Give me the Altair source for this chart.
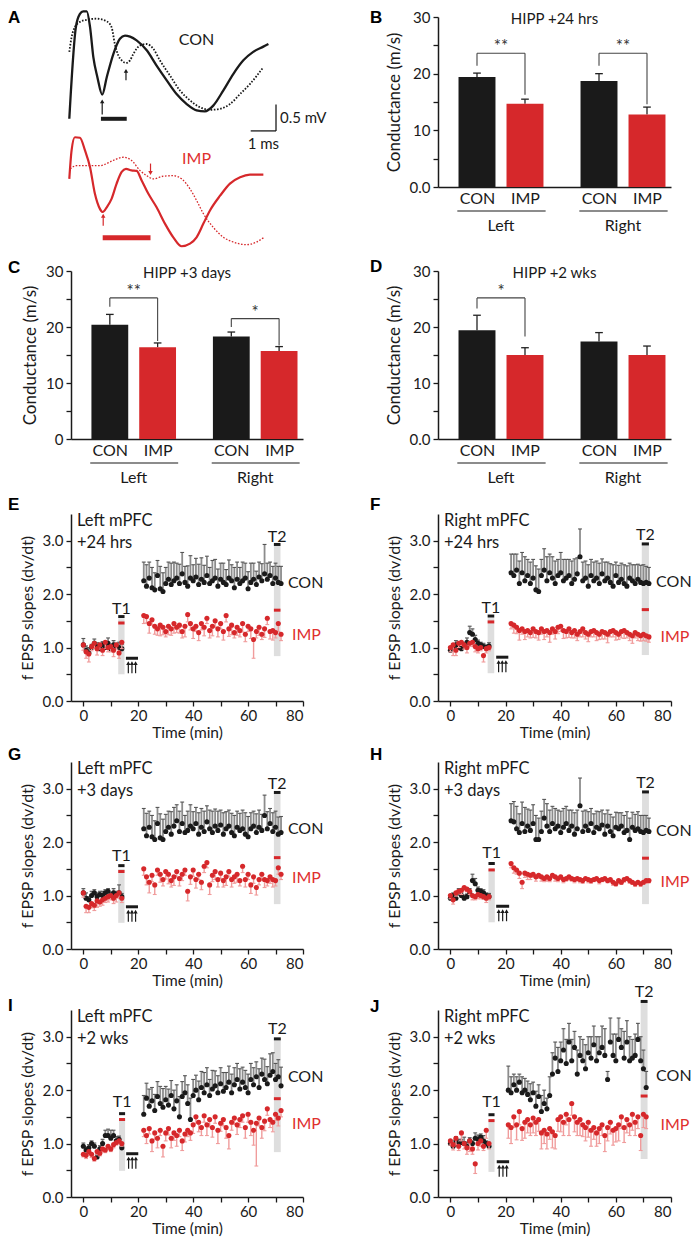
import altair as alt
import pandas as pd

FONT = "Lato"
LFONT = "Liberation Sans"
INK = "#1a1a1a"
RED = "#d6282b"
RED_TXT = "#e0302e"
PALE = "#f09c9c"
ERR_GRAY = "#8c8c8c"
CAP_GRAY = "#555555"
BAND = "#dedede"

W_L, W_R = 232, 233
H_TOP, H_BAR, H_TIME = 170, 168, 187
COL_GAP = 135

# ---------------- Panel A : traces (ms, mV) ----------------
A_CON_SOLID_T = [0, 0.26, 0.42, 0.55, 0.69, 0.82, 0.95, 1.11, 1.30, 1.48, 1.74, 2.00, 2.20, 2.40, 2.66,
                 3.06, 3.45, 3.85, 4.24, 4.64, 5.03, 5.36, 5.69, 6.09, 6.48, 6.88, 7.27, 7.67, 7.87]
A_CON_SOLID_V = [2.31, 4.05, 4.30, 4.35, 4.35, 4.05, 3.48, 3.10, 2.77, 3.10, 3.54, 3.83, 3.89, 3.87, 3.80,
                 3.61, 3.32, 3.04, 2.78, 2.59, 2.47, 2.45, 2.56, 2.85, 3.16, 3.42, 3.58, 3.68, 3.73]
A_CON_DOT_T = [0, 0.09, 0.22, 0.42, 0.69, 1.08, 1.48, 1.67, 1.80, 1.94, 2.07, 2.24, 2.40, 2.53, 2.79,
               3.06, 3.32, 3.58, 3.98, 4.37, 4.77, 5.16, 5.56, 5.96, 6.35, 6.75, 7.14, 7.67]
A_CON_DOT_V = [3.58, 3.86, 4.05, 4.15, 4.19, 4.21, 4.16, 4.05, 3.73, 3.51, 3.42, 3.37, 3.42, 3.54, 3.70,
               3.73, 3.64, 3.42, 3.13, 2.85, 2.66, 2.53, 2.48, 2.50, 2.59, 2.78, 2.97, 3.29]
A_IMP_SOLID_T = [0, 0.09, 0.22, 0.42, 0.62, 0.82, 1.01, 1.21, 1.32, 1.48, 1.67, 1.87, 2.07, 2.24, 2.46, 2.66,
                 2.86, 3.12, 3.45, 3.78, 4.11, 4.44, 4.77, 5.03, 5.30, 5.56, 5.96, 6.35, 6.75, 7.14, 7.67]
A_IMP_SOLID_V = [1.17, 1.71, 1.96, 1.95, 1.71, 1.39, 0.89, 0.60, 0.54, 0.63, 0.79, 1.08, 1.30, 1.36, 1.33, 1.32,
                 1.14, 0.89, 0.63, 0.32, 0.06, -0.11, -0.06, 0.06, 0.32, 0.57, 0.85, 1.08, 1.20, 1.25, 1.25]
A_IMP_DOT_T = [0.03, 0.29, 0.69, 1.21, 1.74, 2.13, 2.46, 2.79, 3.06, 3.32, 3.72, 4.11, 4.44, 4.77, 5.03,
               5.30, 5.69, 6.09, 6.48, 7.01, 7.40, 7.67]
A_IMP_DOT_V = [1.36, 1.42, 1.42, 1.42, 1.52, 1.58, 1.52, 1.33, 1.23, 1.17, 1.22, 1.23, 1.17, 0.98, 0.76,
               0.51, 0.25, 0.06, -0.03, -0.08, -0.03, 0.05]
A_ARROW_T = [1.30, 2.24, 1.34, 3.21]
A_ARROW_TAIL = [2.39, 3.04, 0.28, 1.46]
A_ARROW_HEAD = [2.64, 3.22, 0.47, 1.28]
A_ARROW_GROUP = ["CON", "CON", "IMP", "IMP"]
A_LAT_START = [1.25, 1.32]
A_LAT_END = [2.27, 3.21]
A_LAT_LEVEL = [2.31, 0.05]
A_SCALE_T = [7.17, 8.17]
A_SCALE_V = [2.08, 2.58]

# ---------------- Panels B, C, D : bars ----------------
BAR_POS = [1.0, 2.0, 3.542, 4.542]
BAR_GROUP = ["CON", "IMP", "CON", "IMP"]
SIDES = ["Left", "Right"]
B_MEAN = [19.4, 14.7, 18.7, 12.8]
B_SEM = [0.7, 0.8, 1.3, 1.3]
C_MEAN = [20.4, 16.4, 18.3, 15.7]
C_SEM = [1.85, 0.75, 0.8, 0.8]
D_MEAN = [19.4, 15.0, 17.4, 15.0]
D_SEM = [2.7, 1.3, 1.6, 1.6]
# (from, to, bracket level, left leg end, right leg end, label)
B_BRACKETS = [(1.0, 2.0, 23.6, 21.4, 16.3, "**"), (3.542, 4.542, 23.6, 21.4, 14.6, "**")]
C_BRACKETS = [(1.0, 2.0, 25.2, 23.6, 17.5, "**"), (3.542, 4.542, 21.5, 20.0, 16.7, "*")]
D_BRACKETS = [(1.0, 2.0, 25.2, 23.3, 18.3, "*")]

# ---------------- Panels E-J : fEPSP time courses ----------------
T_BASE = list(range(0, 15))
T_POST = list(range(22, 73))
T_POST_J = list(range(21, 72))

E_CON_BASE = [1.05, 0.95, 0.90, 1.00, 1.08, 1.02, 0.98, 1.05, 1.00, 1.08, 0.98, 1.05, 1.02, 1.00, 0.98]
E_CON_BASE_ERR = [0.12, 0.08, 0.10, 0.06, 0.08, 0.07, 0.10, 0.06, 0.08, 0.10, 0.07, 0.08, 0.06, 0.10, 0.08]
E_IMP_BASE = [1.05, 0.92, 0.88, 1.02, 1.08, 0.98, 1.05, 0.95, 1.10, 1.00, 1.02, 0.95, 1.05, 0.90, 1.10]
E_IMP_BASE_ERR = [0.10, 0.12, 0.15, 0.08, 0.10, 0.12, 0.08, 0.10, 0.12, 0.08, 0.10, 0.12, 0.08, 0.10, 0.12]
E_CON_POST = [2.25, 2.15, 2.30, 2.12, 2.08, 2.35, 2.10, 2.05, 2.20, 2.28,
              2.18, 2.25, 2.30, 2.20, 2.38, 2.22, 2.15, 2.30, 2.25, 2.32,
              2.18, 2.28, 2.22, 2.35, 2.20, 2.25, 2.30, 2.15, 2.28, 2.22,
              2.18, 2.30, 2.25, 2.12, 2.28, 2.20, 2.25, 2.30, 2.10, 2.22,
              2.28, 2.18, 2.32, 2.25, 2.38, 2.28, 2.35, 2.20, 2.30, 2.22, 2.20]
E_CON_POST_ERR = [0.35, 0.40, 0.30, 0.38, 0.32, 0.28, 0.42, 0.35, 0.30, 0.32,
                  0.40, 0.35, 0.28, 0.36, 0.40, 0.30, 0.38, 0.42, 0.30, 0.35,
                  0.38, 0.40, 0.32, 0.36, 0.30, 0.38, 0.35, 0.32, 0.30, 0.36,
                  0.28, 0.34, 0.30, 0.38, 0.32, 0.30, 0.35, 0.28, 0.32, 0.36,
                  0.30, 0.25, 0.28, 0.32, 0.55, 0.30, 0.25, 0.32, 0.28, 0.30, 0.32]
E_IMP_POST = [1.60, 1.58, 1.45, 1.52, 1.40, 1.35, 1.42, 1.38, 1.30, 1.40,
              1.35, 1.45, 1.38, 1.42, 1.30, 1.40, 1.62, 1.45, 1.35, 1.40,
              1.28, 1.45, 1.38, 1.55, 1.32, 1.40, 1.50, 1.35, 1.45, 1.30,
              1.60, 1.35, 1.42, 1.28, 1.38, 1.32, 1.45, 1.25, 1.40, 1.35,
              1.15, 1.30, 1.38, 1.25, 1.35, 1.55, 1.30, 1.32, 1.28, 1.45, 1.25]
E_IMP_POST_ERR = [0.15, 0.12, 0.18, 0.10, 0.15, 0.12, 0.20, 0.14, 0.10, 0.16,
                  0.12, 0.18, 0.10, 0.15, 0.12, 0.20, 0.14, 0.12, 0.18, 0.10,
                  0.15, 0.12, 0.16, 0.10, 0.14, 0.18, 0.12, 0.15, 0.10, 0.16,
                  0.12, 0.14, 0.18, 0.10, 0.15, 0.12, 0.16, 0.14, 0.10, 0.18,
                  0.35, 0.12, 0.15, 0.10, 0.16, 0.12, 0.14, 0.18, 0.10, 0.15, 0.12]

F_CON_BASE = [0.95, 1.00, 1.05, 1.00, 0.98, 1.02, 1.10, 1.28, 1.25, 1.15, 1.08, 1.05, 1.02, 1.00, 1.03]
F_CON_BASE_ERR = [0.06, 0.05, 0.08, 0.06, 0.07, 0.06, 0.08, 0.12, 0.10, 0.08, 0.06, 0.05, 0.06, 0.05, 0.06]
F_IMP_BASE = [1.00, 1.05, 0.95, 1.08, 1.10, 1.05, 1.00, 1.08, 1.10, 1.02, 0.98, 1.00, 0.85, 0.98, 1.00]
F_IMP_BASE_ERR = [0.08, 0.20, 0.10, 0.08, 0.06, 0.08, 0.10, 0.06, 0.08, 0.10, 0.08, 0.06, 0.12, 0.08, 0.06]
F_CON_POST = [2.40, 2.35, 2.45, 2.20, 2.40, 2.25, 2.35, 2.20, 2.30, 2.08,
              2.05, 2.35, 2.45, 2.25, 2.40, 2.30, 2.20, 2.35, 2.40, 2.25,
              2.30, 2.35, 2.20, 2.28, 2.38, 2.70, 2.25, 2.30, 2.15, 2.35,
              2.25, 2.30, 2.20, 2.38, 2.25, 2.30, 2.22, 2.15, 2.35, 2.22,
              2.28, 2.20, 2.15, 2.30, 2.25, 2.20, 2.28, 2.22, 2.20, 2.22, 2.20]
F_CON_POST_ERR = [0.35, 0.40, 0.30, 0.42, 0.38, 0.45, 0.30, 0.40, 0.35, 0.45,
                  0.42, 0.30, 0.40, 0.45, 0.35, 0.40, 0.42, 0.30, 0.38, 0.40,
                  0.35, 0.30, 0.42, 0.38, 0.30, 0.52, 0.35, 0.32, 0.40, 0.30,
                  0.35, 0.32, 0.38, 0.28, 0.35, 0.30, 0.35, 0.40, 0.25, 0.32,
                  0.30, 0.35, 0.38, 0.28, 0.30, 0.35, 0.28, 0.32, 0.35, 0.30, 0.30]
F_IMP_POST = [1.45, 1.42, 1.38, 1.32, 1.35, 1.30, 1.32, 1.28, 1.35, 1.30,
              1.28, 1.35, 1.30, 1.32, 1.28, 1.35, 1.30, 1.38, 1.40, 1.32,
              1.30, 1.35, 1.28, 1.32, 1.25, 1.30, 1.35, 1.28, 1.25, 1.30,
              1.32, 1.28, 1.25, 1.30, 1.28, 1.25, 1.30, 1.32, 1.28, 1.25,
              1.30, 1.32, 1.28, 1.25, 1.22, 1.28, 1.25, 1.22, 1.25, 1.22, 1.20]
F_IMP_POST_ERR = [0.10, 0.15, 0.12, 0.18, 0.10, 0.15, 0.12, 0.10, 0.16, 0.12,
                  0.14, 0.10, 0.15, 0.12, 0.18, 0.10, 0.14, 0.12, 0.10, 0.15,
                  0.12, 0.16, 0.10, 0.14, 0.12, 0.10, 0.15, 0.12, 0.14, 0.10,
                  0.12, 0.15, 0.10, 0.14, 0.12, 0.16, 0.10, 0.12, 0.14, 0.10,
                  0.12, 0.15, 0.10, 0.12, 0.14, 0.10, 0.12, 0.10, 0.12, 0.10, 0.10]

G_CON_BASE = [1.05, 0.95, 0.92, 1.00, 1.05, 0.98, 1.02, 1.00, 1.05, 1.08, 1.00, 1.05, 1.02, 1.05, 0.98]
G_CON_BASE_ERR = [0.08, 0.10, 0.06, 0.08, 0.06, 0.07, 0.06, 0.08, 0.06, 0.05, 0.06, 0.08, 0.06, 0.15, 0.06]
G_IMP_BASE = [1.05, 0.80, 0.78, 0.85, 0.82, 0.90, 0.88, 0.92, 0.95, 0.98, 1.00, 0.95, 1.00, 1.05, 0.95]
G_IMP_BASE_ERR = [0.08, 0.12, 0.10, 0.08, 0.10, 0.12, 0.08, 0.10, 0.08, 0.10, 0.08, 0.10, 0.12, 0.10, 0.08]
G_CON_POST = [2.25, 2.12, 2.28, 2.10, 2.05, 2.35, 2.08, 2.05, 2.20, 2.28,
              2.15, 2.30, 2.40, 2.20, 2.35, 2.18, 2.22, 2.30, 2.25, 2.35,
              2.15, 2.28, 2.20, 2.38, 2.25, 2.18, 2.30, 2.22, 2.32, 2.15,
              2.25, 2.30, 2.18, 2.12, 2.28, 2.22, 2.25, 2.15, 2.10, 2.25,
              2.30, 2.18, 2.28, 2.22, 2.50, 2.25, 2.35, 2.20, 2.28, 2.15, 2.18]
G_CON_POST_ERR = [0.38, 0.42, 0.30, 0.40, 0.35, 0.30, 0.45, 0.38, 0.32, 0.30,
                  0.42, 0.35, 0.30, 0.38, 0.40, 0.32, 0.36, 0.40, 0.32, 0.30,
                  0.40, 0.35, 0.38, 0.30, 0.35, 0.40, 0.32, 0.36, 0.28, 0.40,
                  0.32, 0.30, 0.36, 0.38, 0.30, 0.32, 0.35, 0.40, 0.38, 0.30,
                  0.28, 0.35, 0.32, 0.30, 0.38, 0.32, 0.28, 0.35, 0.30, 0.32, 0.30]
G_IMP_POST = [1.50, 1.35, 1.25, 1.38, 1.20, 1.48, 1.40, 1.30, 1.45, 1.40,
              1.28, 1.35, 1.45, 1.32, 1.40, 1.48, 1.08, 1.35, 1.48, 1.30,
              1.40, 1.25, 1.55, 1.62, 1.20, 1.38, 1.45, 1.30, 1.42, 1.28,
              1.35, 1.45, 1.30, 1.35, 1.40, 1.28, 1.55, 1.30, 1.40, 1.20,
              1.35, 1.15, 1.30, 1.40, 1.30, 1.28, 1.35, 1.30, 1.28, 1.52, 1.40]
G_IMP_POST_ERR = [0.12, 0.15, 0.20, 0.12, 0.18, 0.10, 0.15, 0.12, 0.14, 0.18,
                  0.12, 0.16, 0.10, 0.14, 0.12, 0.10, 0.18, 0.14, 0.12, 0.16,
                  0.10, 0.14, 0.12, 0.10, 0.18, 0.12, 0.15, 0.14, 0.10, 0.12,
                  0.16, 0.10, 0.14, 0.12, 0.15, 0.10, 0.12, 0.14, 0.10, 0.16,
                  0.12, 0.14, 0.10, 0.12, 0.15, 0.10, 0.12, 0.14, 0.10, 0.12, 0.10]

H_CON_BASE = [0.95, 1.00, 0.95, 1.05, 1.00, 0.95, 0.98, 1.05, 1.28, 1.22, 1.10, 1.08, 1.05, 1.00, 0.98]
H_CON_BASE_ERR = [0.06, 0.05, 0.06, 0.08, 0.05, 0.06, 0.05, 0.08, 0.12, 0.10, 0.06, 0.05, 0.06, 0.05, 0.06]
H_IMP_BASE = [1.00, 0.92, 1.05, 1.08, 1.10, 1.15, 1.12, 1.08, 1.00, 0.98, 1.02, 1.00, 0.98, 0.95, 0.98]
H_IMP_BASE_ERR = [0.06, 0.08, 0.06, 0.05, 0.08, 0.06, 0.05, 0.06, 0.08, 0.06, 0.08, 0.06, 0.05, 0.08, 0.06]
H_CON_POST = [2.40, 2.38, 2.25, 2.18, 2.35, 2.20, 2.30, 2.22, 2.35, 2.05,
              2.05, 2.20, 2.45, 2.30, 2.20, 2.35, 2.25, 2.30, 2.18, 2.28,
              2.35, 2.22, 2.30, 2.15, 2.25, 2.68, 2.20, 2.30, 2.22, 2.35,
              2.18, 2.28, 2.25, 2.32, 2.15, 2.30, 2.20, 2.12, 2.28, 2.25,
              2.30, 2.18, 2.22, 2.05, 2.28, 2.22, 2.25, 2.20, 2.18, 2.22, 2.20]
H_CON_POST_ERR = [0.32, 0.38, 0.42, 0.35, 0.40, 0.45, 0.32, 0.38, 0.35, 0.45,
                  0.40, 0.38, 0.35, 0.42, 0.40, 0.32, 0.38, 0.30, 0.40, 0.35,
                  0.32, 0.38, 0.30, 0.40, 0.35, 0.52, 0.38, 0.30, 0.35, 0.28,
                  0.35, 0.30, 0.32, 0.28, 0.38, 0.30, 0.32, 0.35, 0.28, 0.30,
                  0.25, 0.32, 0.35, 0.40, 0.28, 0.30, 0.32, 0.30, 0.32, 0.28, 0.25]
H_IMP_POST = [1.60, 1.52, 1.48, 1.42, 1.25, 1.42, 1.40, 1.38, 1.40, 1.35,
              1.38, 1.35, 1.32, 1.35, 1.32, 1.38, 1.35, 1.32, 1.35, 1.30,
              1.32, 1.35, 1.32, 1.30, 1.32, 1.30, 1.28, 1.32, 1.30, 1.28,
              1.30, 1.32, 1.28, 1.30, 1.32, 1.28, 1.30, 1.25, 1.22, 1.28,
              1.25, 1.30, 1.32, 1.28, 1.25, 1.22, 1.25, 1.22, 1.25, 1.28, 1.28]
H_IMP_POST_ERR = [0.08, 0.10, 0.08, 0.10, 0.12, 0.08, 0.10, 0.08, 0.06, 0.08,
                  0.06, 0.08, 0.06, 0.08, 0.06, 0.05, 0.08, 0.06, 0.05, 0.06,
                  0.05, 0.06, 0.05, 0.06, 0.05, 0.06, 0.05, 0.04, 0.06, 0.05,
                  0.04, 0.05, 0.06, 0.04, 0.05, 0.04, 0.05, 0.06, 0.04, 0.05,
                  0.04, 0.05, 0.04, 0.05, 0.04, 0.05, 0.04, 0.05, 0.04, 0.05, 0.04]

I_CON_BASE = [0.95, 0.88, 0.92, 1.00, 0.95, 0.75, 0.90, 1.00, 1.15, 1.15, 1.10, 1.15, 1.05, 1.08, 0.92]
I_CON_BASE_ERR = [0.06, 0.05, 0.06, 0.05, 0.06, 0.05, 0.06, 0.08, 0.10, 0.12, 0.15, 0.10, 0.08, 0.06, 0.05]
I_IMP_BASE = [0.80, 0.78, 0.85, 0.80, 0.72, 0.85, 0.82, 0.90, 0.88, 0.95, 0.90, 0.98, 1.02, 1.05, 1.00]
I_IMP_BASE_ERR = [0.05, 0.06, 0.05, 0.06, 0.05, 0.06, 0.05, 0.06, 0.05, 0.06, 0.05, 0.06, 0.05, 0.06, 0.05]
I_CON_POST = [1.55, 1.85, 1.70, 1.80, 1.62, 1.88, 1.75, 1.68, 1.82, 1.72,
              1.90, 1.65, 1.80, 1.50, 1.88, 1.95, 1.75, 1.45, 1.90, 2.00,
              1.82, 2.05, 1.95, 2.10, 1.90, 2.02, 2.08, 1.95, 2.12, 1.98,
              2.05, 2.15, 1.95, 2.10, 2.20, 2.02, 2.15, 2.05, 1.95, 2.20,
              2.10, 2.25, 2.05, 2.30, 2.20, 2.12, 2.28, 2.35, 2.20, 2.25, 2.08]
I_CON_POST_ERR = [0.35, 0.28, 0.32, 0.25, 0.30, 0.28, 0.32, 0.35, 0.25, 0.30,
                  0.28, 0.35, 0.30, 0.38, 0.28, 0.32, 0.35, 0.40, 0.30, 0.28,
                  0.35, 0.30, 0.38, 0.32, 0.30, 0.35, 0.28, 0.32, 0.30, 0.35,
                  0.28, 0.30, 0.35, 0.32, 0.30, 0.38, 0.28, 0.32, 0.35, 0.30,
                  0.32, 0.28, 0.35, 0.30, 0.38, 0.32, 0.40, 0.35, 0.30, 0.32, 0.35]
I_IMP_POST = [1.25, 1.15, 1.28, 1.05, 1.20, 1.10, 1.25, 0.95, 1.20, 1.28,
              1.10, 1.20, 1.15, 1.25, 1.05, 1.18, 1.25, 1.20, 1.35, 1.50,
              1.40, 1.30, 1.52, 1.35, 1.45, 1.30, 1.50, 1.25, 1.38, 1.45,
              1.30, 1.15, 1.40, 1.48, 1.35, 1.45, 1.52, 1.30, 1.55, 1.40,
              1.25, 1.38, 1.48, 1.30, 1.42, 1.65, 1.45, 1.40, 1.55, 1.48, 1.62]
I_IMP_POST_ERR = [0.12, 0.15, 0.10, 0.20, 0.12, 0.18, 0.10, 0.20, 0.15, 0.12,
                  0.18, 0.14, 0.20, 0.12, 0.18, 0.15, 0.12, 0.14, 0.16, 0.12,
                  0.18, 0.15, 0.12, 0.20, 0.14, 0.18, 0.12, 0.25, 0.15, 0.12,
                  0.20, 0.25, 0.15, 0.12, 0.18, 0.15, 0.12, 0.20, 0.15, 0.25,
                  0.28, 0.80, 0.15, 0.20, 0.18, 0.12, 0.15, 0.18, 0.12, 0.15, 0.12]

J_CON_BASE = [1.00, 0.95, 1.05, 0.98, 1.02, 1.00, 0.95, 1.05, 1.00, 1.10, 1.08, 1.12, 1.05, 1.00, 0.95]
J_CON_BASE_ERR = [0.06, 0.05, 0.08, 0.10, 0.06, 0.12, 0.08, 0.06, 0.05, 0.10, 0.08, 0.06, 0.10, 0.05, 0.06]
J_IMP_BASE = [1.05, 0.98, 1.10, 0.95, 1.20, 1.00, 0.92, 1.05, 0.90, 0.62, 1.00, 1.05, 0.95, 1.25, 1.00]
J_IMP_BASE_ERR = [0.08, 0.10, 0.12, 0.08, 0.15, 0.10, 0.12, 0.20, 0.10, 0.18, 0.12, 0.10, 0.08, 0.15, 0.10]
J_CON_POST = [2.00, 1.95, 2.10, 2.00, 2.15, 1.95, 2.00, 1.92, 1.82, 1.95,
              1.70, 1.88, 1.60, 1.75, 1.65, 1.90, 2.30, 2.60, 2.35, 2.55,
              2.75, 2.50, 2.90, 2.55, 2.80, 2.30, 2.65, 2.55, 2.40, 2.70,
              2.60, 2.85, 2.55, 2.70, 2.80, 2.65, 2.20, 2.90, 2.65, 2.55,
              2.95, 2.80, 2.60, 2.90, 2.55, 2.60, 2.65, 2.95, 2.55, 2.40, 2.05]
J_CON_POST_ERR = [0.45, 0.30, 0.20, 0.25, 0.15, 0.30, 0.22, 0.25, 0.30, 0.20,
                  0.28, 0.22, 0.30, 0.25, 0.20, 0.35, 0.40, 0.30, 0.45, 0.35,
                  0.40, 0.45, 0.35, 0.40, 0.30, 0.45, 0.35, 0.40, 0.45, 0.30,
                  0.40, 0.35, 0.45, 0.30, 0.40, 0.50, 0.15, 0.45, 0.40, 0.50,
                  0.40, 0.35, 0.50, 0.40, 0.45, 0.35, 0.40, 0.30, 0.45, 0.35, 0.30]
J_IMP_POST = [1.35, 1.30, 1.50, 1.35, 1.60, 1.28, 1.40, 1.45, 1.35, 1.48,
              1.40, 1.45, 1.20, 1.25, 1.18, 1.28, 1.22, 1.15, 1.45, 1.50,
              1.40, 1.55, 1.45, 1.75, 1.50, 1.40, 1.45, 1.35, 1.30, 1.40,
              1.25, 1.30, 1.20, 1.28, 1.35, 1.15, 1.30, 1.40, 1.25, 1.28,
              1.35, 1.50, 1.30, 1.45, 1.35, 1.55, 1.40, 1.50, 1.15, 1.55, 1.50]
J_IMP_POST_ERR = [0.25, 0.30, 0.20, 0.28, 0.25, 0.22, 0.30, 0.25, 0.20, 0.28,
                  0.25, 0.22, 0.30, 0.25, 0.28, 0.20, 0.30, 0.25, 0.22, 0.28,
                  0.25, 0.20, 0.30, 0.22, 0.28, 0.25, 0.30, 0.22, 0.25, 0.28,
                  0.30, 0.22, 0.25, 0.28, 0.20, 0.30, 0.25, 0.22, 0.28, 0.25,
                  0.30, 0.22, 0.28, 0.25, 0.20, 0.30, 0.25, 0.22, 0.28, 0.25, 0.22]

# annotation levels (min / slope units)
PANELS = {
    "E": dict(l1="Left mPFC", l2="+24 hrs", tp=T_POST,
              cb=E_CON_BASE, cbe=E_CON_BASE_ERR, ib=E_IMP_BASE, ibe=E_IMP_BASE_ERR,
              cp=E_CON_POST, cpe=E_CON_POST_ERR, ip=E_IMP_POST, ipe=E_IMP_POST_ERR,
              t1=(12.7, 15.0, 0.50, 1.53), t1d=(1.58, 1.46), t1l=1.73,
              t2=(69.4, 71.8, 0.84, 2.93), t2r=1.70, t2l=3.07,
              stim=(15.5, 19.9, 0.80), con=(74.5, 2.20), imp=(76.0, 1.23), ldy=-9),
    "F": dict(l1="Right mPFC", l2="+24 hrs", tp=T_POST,
              cb=F_CON_BASE, cbe=F_CON_BASE_ERR, ib=F_IMP_BASE, ibe=F_IMP_BASE_ERR,
              cp=F_CON_POST, cpe=F_CON_POST_ERR, ip=F_IMP_POST, ipe=F_IMP_POST_ERR,
              t1=(13.5, 15.9, 0.52, 1.55), t1d=(1.59, 1.48), t1l=1.75,
              t2=(69.4, 72.0, 0.86, 2.94), t2r=1.71, t2l=3.11,
              stim=(16.6, 21.0, 0.82), con=(74.6, 2.22), imp=(76.2, 1.20), ldy=-9),
    "G": dict(l1="Left mPFC", l2="+3 days", tp=T_POST,
              cb=G_CON_BASE, cbe=G_CON_BASE_ERR, ib=G_IMP_BASE, ibe=G_IMP_BASE_ERR,
              cp=G_CON_POST, cpe=G_CON_POST_ERR, ip=G_IMP_POST, ipe=G_IMP_POST_ERR,
              t1=(12.7, 15.0, 0.49, 1.50), t1d=(1.56, 1.45), t1l=1.74,
              t2=(69.4, 71.8, 0.84, 2.93), t2r=1.71, t2l=3.08,
              stim=(15.5, 19.9, 0.79), con=(74.5, 2.25), imp=(76.0, 1.33), ldy=-7),
    "H": dict(l1="Right mPFC", l2="+3 days", tp=T_POST,
              cb=H_CON_BASE, cbe=H_CON_BASE_ERR, ib=H_IMP_BASE, ibe=H_IMP_BASE_ERR,
              cp=H_CON_POST, cpe=H_CON_POST_ERR, ip=H_IMP_POST, ipe=H_IMP_POST_ERR,
              t1=(13.8, 16.1, 0.50, 1.50), t1d=(1.60, 1.48), t1l=1.80,
              t2=(69.5, 72.0, 0.84, 2.94), t2r=1.70, t2l=3.11,
              stim=(16.6, 21.3, 0.80), con=(74.6, 2.20), imp=(76.2, 1.26), ldy=-7),
    "I": dict(l1="Left mPFC", l2="+2 wks", tp=T_POST,
              cb=I_CON_BASE, cbe=I_CON_BASE_ERR, ib=I_IMP_BASE, ibe=I_IMP_BASE_ERR,
              cp=I_CON_POST, cpe=I_CON_POST_ERR, ip=I_IMP_POST, ipe=I_IMP_POST_ERR,
              t1=(13.0, 15.2, 0.49, 1.46), t1d=(1.56, 1.45), t1l=1.77,
              t2=(69.4, 71.9, 0.84, 2.96), t2r=1.84, t2l=3.15,
              stim=(15.6, 20.0, 0.81), con=(74.5, 2.25), imp=(76.0, 1.37), ldy=-4),
    "J": dict(l1="Right mPFC", l2="+2 wks", tp=T_POST_J,
              cb=J_CON_BASE, cbe=J_CON_BASE_ERR, ib=J_IMP_BASE, ibe=J_IMP_BASE_ERR,
              cp=J_CON_POST, cpe=J_CON_POST_ERR, ip=J_IMP_POST, ipe=J_IMP_POST_ERR,
              t1=(13.8, 16.0, 0.47, 1.44), t1d=(1.54, 1.43), t1l=1.78,
              t2=(69.0, 71.5, 0.71, 3.66), t2r=1.89, t2l=3.84,
              stim=(16.8, 21.3, 0.66), con=(74.6, 2.27), imp=(76.2, 1.35), ldy=-3),
}

LEFT_LETTER_X = -63
RIGHT_LETTER_X = -68
TOP_ANCHOR = -40          # invisible layout anchor above the first row (px)
PAD_TOP = -31             # puts the first plot row 17 px below the page margin


def letter_layer(letter, x, y):
    return alt.Chart(pd.DataFrame({"s": [letter]})).mark_text(
        font=LFONT, fontSize=17, fontWeight="bold", color="#000000", align="left", baseline="middle"
    ).encode(text="s:N", x=alt.value(x), y=alt.value(y))


def trace_panel():
    w, h = W_L, H_TOP
    y0 = 1.015
    xs = alt.Scale(domain=[0.067, 0.067 + w / 25.3], nice=False, zero=False)
    ys = alt.Scale(domain=[y0, y0 + h / 52.67], nice=False, zero=False)

    def X(f):
        return alt.X(f, type="quantitative", scale=xs, axis=None)

    def Y(f):
        return alt.Y(f, type="quantitative", scale=ys, axis=None)

    def line(ts, vs, color, width, dash=None):
        kw = dict(color=color, strokeWidth=width, interpolate="monotone")
        if dash:
            kw["strokeDash"] = dash
        return alt.Chart(pd.DataFrame({"t": ts, "v": vs})).mark_line(**kw).encode(x=X("t"), y=Y("v"))

    anchor = alt.Chart(pd.DataFrame({"z": [0]})).mark_rect(opacity=0).encode(
        x=alt.value(0), x2=alt.value(1), y=alt.value(TOP_ANCHOR), y2=alt.value(TOP_ANCHOR + 1))
    layers = [
        anchor,
        line(A_CON_DOT_T, A_CON_DOT_V, INK, 1.8, [1.6, 1.6]),
        line(A_CON_SOLID_T, A_CON_SOLID_V, INK, 2.3),
        line(A_IMP_DOT_T, A_IMP_DOT_V, RED, 1.3, [1.6, 1.6]),
        line(A_IMP_SOLID_T, A_IMP_SOLID_V, RED, 2.2),
    ]
    arr = pd.DataFrame({"t": A_ARROW_T, "tail": A_ARROW_TAIL, "head": A_ARROW_HEAD, "g": A_ARROW_GROUP})
    arr["col"] = [INK if g == "CON" else RED for g in arr["g"]]
    arr["shape"] = ["triangle-up" if hd > tl else "triangle-down" for hd, tl in zip(arr["head"], arr["tail"])]
    layers.append(alt.Chart(arr).mark_rule(strokeWidth=1.2).encode(
        x=X("t"), y=Y("tail"), y2=alt.Y2("head"), color=alt.Color("col:N", scale=None)))
    layers.append(alt.Chart(arr).mark_point(filled=True, size=20, opacity=1).encode(
        x=X("t"), y=Y("head"), color=alt.Color("col:N", scale=None), shape=alt.Shape("shape:N", scale=None)))
    lat = pd.DataFrame({"a": A_LAT_START, "b": A_LAT_END, "v": A_LAT_LEVEL})
    layers.append(alt.Chart(lat.iloc[[0]]).mark_rule(color=INK, strokeWidth=4).encode(
        x=X("a"), x2=alt.X2("b"), y=Y("v")))
    layers.append(alt.Chart(lat.iloc[[1]]).mark_rule(color=RED, strokeWidth=5).encode(
        x=X("a"), x2=alt.X2("b"), y=Y("v")))
    sc = pd.DataFrame({"t0": [A_SCALE_T[0]], "t1": [A_SCALE_T[1]], "v0": [A_SCALE_V[0]], "v1": [A_SCALE_V[1]]})
    layers.append(alt.Chart(sc).mark_rule(color=INK, strokeWidth=1.3).encode(
        x=X("t0"), x2=alt.X2("t1"), y=Y("v0")))
    layers.append(alt.Chart(sc).mark_rule(color=INK, strokeWidth=1.3).encode(
        x=X("t1"), y=Y("v0"), y2=alt.Y2("v1")))
    txt = pd.DataFrame({"t": [A_SCALE_T[1] + 0.16], "v": [(A_SCALE_V[0] + A_SCALE_V[1]) / 2], "s": ["0.5 mV"]})
    layers.append(alt.Chart(txt).mark_text(font=FONT, fontSize=15, color=INK, align="left", baseline="middle").encode(
        x=X("t"), y=Y("v"), text="s:N"))
    txt2 = pd.DataFrame({"t": [(A_SCALE_T[0] + A_SCALE_T[1]) / 2], "v": [A_SCALE_V[0] - 0.24], "s": ["1 ms"]})
    layers.append(alt.Chart(txt2).mark_text(font=FONT, fontSize=15, color=INK, align="center", baseline="middle").encode(
        x=X("t"), y=Y("v"), text="s:N"))
    lab = pd.DataFrame({"t": [5.03], "v": [3.80], "s": ["CON"]})
    layers.append(alt.Chart(lab).mark_text(font=FONT, fontSize=16, color=INK, baseline="middle").encode(
        x=X("t"), y=Y("v"), text="s:N"))
    lab2 = pd.DataFrame({"t": [5.03], "v": [1.55], "s": ["IMP"]})
    layers.append(alt.Chart(lab2).mark_text(font=FONT, fontSize=16, color=RED_TXT, baseline="middle").encode(
        x=X("t"), y=Y("v"), text="s:N"))
    layers.append(letter_layer("A", LEFT_LETTER_X, 1))
    return alt.layer(*layers).properties(width=w, height=h)


def bar_panel(letter, title, means, sems, brackets, zero_label, width, height, letter_x, letter_y):
    xs = alt.Scale(domain=[0.1875, 5.042], nice=False, zero=False)
    ys = alt.Scale(domain=[0, 30], nice=False, zero=False)
    xax = alt.Axis(values=BAR_POS,
                   labelExpr="(datum.value < 1.5 || (datum.value > 3 && datum.value < 4)) ? 'CON' : 'IMP'",
                   ticks=False, title=None, labelFontSize=16, labelPadding=3, labelAngle=0)
    yax = alt.Axis(values=[0, 5, 10, 15, 20, 25, 30],
                   labelExpr="datum.value == 0 ? '" + zero_label + "' : (datum.value % 10 == 0 ? datum.label : '')",
                   title="Conductance (m/s)", labelFontSize=15, titleFontSize=17, titlePadding=6)

    def X(f):
        return alt.X(f, type="quantitative", scale=xs, axis=xax)

    def Y(f):
        return alt.Y(f, type="quantitative", scale=ys, axis=yax)

    df = pd.DataFrame({"pos": BAR_POS, "grp": BAR_GROUP, "mean": means, "sem": sems})
    df["x1"] = df["pos"] - 0.385
    df["x2"] = df["pos"] + 0.385
    df["top"] = df["mean"] + df["sem"]
    df["c1"] = df["pos"] - 0.08
    df["c2"] = df["pos"] + 0.08
    df["zero"] = 0.0
    df["fill"] = [INK if g == "CON" else RED for g in df["grp"]]
    base = alt.Chart(df)
    layers = [
        base.mark_rule(color="#222222", strokeWidth=1.3).encode(x=X("pos"), y=Y("mean"), y2=alt.Y2("top")),
        base.mark_rule(color="#222222", strokeWidth=1.3).encode(x=X("c1"), x2=alt.X2("c2"), y=Y("top")),
        base.mark_rect().encode(x=X("x1"), x2=alt.X2("x2"), y=Y("zero"), y2=alt.Y2("mean"),
                                color=alt.Color("fill:N", scale=None)),
    ]
    g = pd.DataFrame({"a": [BAR_POS[0] - 0.41, BAR_POS[2] - 0.41], "b": [BAR_POS[1] + 0.43, BAR_POS[3] + 0.43],
                      "mid": [(BAR_POS[0] + BAR_POS[1]) / 2, (BAR_POS[2] + BAR_POS[3]) / 2], "side": SIDES})
    layers.append(alt.Chart(g).mark_rule(color=INK, strokeWidth=1.2).encode(
        x=X("a"), x2=alt.X2("b"), y=alt.value(height + 24)))
    layers.append(alt.Chart(g).mark_text(font=FONT, fontSize=16, color=INK, baseline="middle").encode(
        x=X("mid"), y=alt.value(height + 39), text="side:N"))
    br = pd.DataFrame(brackets, columns=["xa", "xb", "yb", "la", "lb", "s"])
    br["mid"] = (br["xa"] + br["xb"]) / 2
    legs = pd.DataFrame({"x": list(br["xa"]) + list(br["xb"]), "y1": list(br["yb"]) * 2,
                         "y2": list(br["la"]) + list(br["lb"])})
    layers.append(alt.Chart(br).mark_rule(color="#444444", strokeWidth=1.1).encode(
        x=X("xa"), x2=alt.X2("xb"), y=Y("yb")))
    layers.append(alt.Chart(legs).mark_rule(color="#444444", strokeWidth=1.1).encode(
        x=X("x"), y=Y("y1"), y2=alt.Y2("y2")))
    layers.append(alt.Chart(br).mark_text(font=FONT, fontSize=17, color="#333333", baseline="alphabetic", dy=-1).encode(
        x=X("mid"), y=Y("yb"), text="s:N"))
    layers.append(alt.Chart(pd.DataFrame({"s": [title]})).mark_text(
        font=FONT, fontSize=15, color=INK, baseline="middle").encode(
        text="s:N", x=alt.value(width / 2), y=alt.value(2)))
    layers.append(letter_layer(letter, letter_x, letter_y))
    return alt.layer(*layers).properties(width=width, height=height)


def series(tb, vb, eb, tp, vp, ep, sign):
    rows = list(zip(tb, vb, eb)) + list(zip(tp, vp, ep))
    df = pd.DataFrame(rows, columns=["t", "v", "e"])
    df["end"] = df["v"] + sign * df["e"]
    df["c1"] = df["t"] - 0.7
    df["c2"] = df["t"] + 0.7
    return df


def time_panel(key, width, letter_x):
    p = PANELS[key]
    xs = alt.Scale(domain=[-4.5, 80], nice=False, zero=False)
    ys = alt.Scale(domain=[0, 3.5], nice=False, zero=False)
    xax = alt.Axis(values=[0, 10, 20, 30, 40, 50, 60, 70, 80],
                   labelExpr="datum.value % 20 == 0 ? datum.label : ''",
                   title="Time (min)", labelFontSize=15, labelPadding=2, titleFontSize=15.5, titlePadding=2)
    yax = alt.Axis(values=[0, 0.5, 1, 1.5, 2, 2.5, 3],
                   labelExpr="datum.value % 1 == 0 ? format(datum.value, '.1f') : ''",
                   title="f EPSP slopes (dv/dt)", labelFontSize=15, titleFontSize=16, titlePadding=7)

    def X(f):
        return alt.X(f, type="quantitative", scale=xs, axis=xax)

    def Y(f):
        return alt.Y(f, type="quantitative", scale=ys, axis=yax)

    con = series(T_BASE, p["cb"], p["cbe"], p["tp"], p["cp"], p["cpe"], 1)
    imp = series(T_BASE, p["ib"], p["ibe"], p["tp"], p["ip"], p["ipe"], -1)
    t1, t2 = p["t1"], p["t2"]
    bands = pd.DataFrame({"x1": [t1[0], t2[0]], "x2": [t1[1], t2[1]], "y1": [t1[2], t2[2]], "y2": [t1[3], t2[3]]})
    layers = [alt.Chart(bands).mark_rect(color=BAND).encode(x=X("x1"), x2=alt.X2("x2"), y=Y("y1"), y2=alt.Y2("y2"))]
    layers.append(alt.Chart(con).mark_rule(color=ERR_GRAY, strokeWidth=1.8).encode(
        x=X("t"), y=Y("v"), y2=alt.Y2("end")))
    layers.append(alt.Chart(con).mark_rule(color=CAP_GRAY, strokeWidth=1.1).encode(
        x=X("c1"), x2=alt.X2("c2"), y=Y("end")))
    layers.append(alt.Chart(con).mark_circle(color=INK, size=26, opacity=1).encode(x=X("t"), y=Y("v")))
    layers.append(alt.Chart(imp).mark_rule(color=PALE, strokeWidth=1.4).encode(
        x=X("t"), y=Y("v"), y2=alt.Y2("end")))
    layers.append(alt.Chart(imp).mark_rule(color=PALE, strokeWidth=1.1).encode(
        x=X("c1"), x2=alt.X2("c2"), y=Y("end")))
    layers.append(alt.Chart(imp).mark_circle(color=RED, size=26, opacity=1).encode(x=X("t"), y=Y("v")))
    dashes = pd.DataFrame({"x1": [t1[0], t1[0], t2[0], t2[0]], "x2": [t1[1], t1[1], t2[1], t2[1]],
                           "y": [p["t1d"][0], p["t1d"][1], t2[3], p["t2r"]],
                           "col": [INK, RED, INK, RED]})
    layers.append(alt.Chart(dashes).mark_rule(strokeWidth=3).encode(
        x=X("x1"), x2=alt.X2("x2"), y=Y("y"), color=alt.Color("col:N", scale=None)))
    sa, sb, sy = p["stim"]
    stim = pd.DataFrame({"a": [sa], "b": [sb], "y": [sy]})
    layers.append(alt.Chart(stim).mark_rule(color=INK, strokeWidth=3).encode(x=X("a"), x2=alt.X2("b"), y=Y("y")))
    arrows = pd.DataFrame({"x": [sa + f * (sb - sa) for f in (0.2, 0.5, 0.8)]})
    arrows["y1"] = sy - 0.28
    arrows["y2"] = sy - 0.09
    layers.append(alt.Chart(arrows).mark_rule(color=INK, strokeWidth=1.2).encode(
        x=X("x"), y=Y("y1"), y2=alt.Y2("y2")))
    layers.append(alt.Chart(arrows).mark_point(shape="triangle-up", filled=True, size=18, color=INK, opacity=1).encode(
        x=X("x"), y=Y("y2")))
    tl = pd.DataFrame({"x": [(t1[0] + t1[1]) / 2, (t2[0] + t2[1]) / 2], "y": [p["t1l"], p["t2l"]], "s": ["T1", "T2"]})
    layers.append(alt.Chart(tl).mark_text(font=FONT, fontSize=16, color=INK, baseline="middle").encode(
        x=X("x"), y=Y("y"), text="s:N"))
    cl = pd.DataFrame({"x": [p["con"][0]], "y": [p["con"][1]], "s": ["CON"]})
    layers.append(alt.Chart(cl).mark_text(font=FONT, fontSize=16, color=INK, align="left", baseline="middle").encode(
        x=X("x"), y=Y("y"), text="s:N"))
    il = pd.DataFrame({"x": [p["imp"][0]], "y": [p["imp"][1]], "s": ["IMP"]})
    layers.append(alt.Chart(il).mark_text(font=FONT, fontSize=16, color=RED_TXT, align="left", baseline="middle").encode(
        x=X("x"), y=Y("y"), text="s:N"))
    lines = pd.DataFrame({"s": [p["l1"], p["l2"]]})
    layers.append(alt.Chart(lines.iloc[[0]]).mark_text(font=FONT, fontSize=16.5, color=INK, align="left", baseline="middle").encode(
        x=alt.value(6), y=alt.value(7), text="s:N"))
    layers.append(alt.Chart(lines.iloc[[1]]).mark_text(font=FONT, fontSize=16.5, color=INK, align="left", baseline="middle").encode(
        x=alt.value(6), y=alt.value(29), text="s:N"))
    layers.append(letter_layer(key, letter_x, p["ldy"]))
    return alt.layer(*layers).properties(width=width, height=H_TIME)


def spacer(w, h):
    return alt.Chart(pd.DataFrame({"z": [0]})).mark_point(opacity=0).encode(
        x=alt.value(0), y=alt.value(0)).properties(width=w, height=h)


panel_a = trace_panel()
panel_b = bar_panel("B", "HIPP +24 hrs", B_MEAN, B_SEM, B_BRACKETS, "0.0", W_R, H_TOP, RIGHT_LETTER_X, 1)
panel_c = bar_panel("C", "HIPP +3 days", C_MEAN, C_SEM, C_BRACKETS, "0", W_L, H_BAR, LEFT_LETTER_X, -3)
panel_d = bar_panel("D", "HIPP +2 wks", D_MEAN, D_SEM, D_BRACKETS, "0.0", W_R, H_BAR, RIGHT_LETTER_X, -4)

cells = [
    panel_a, panel_b,
    spacer(W_L, 84), spacer(W_R, 84),
    panel_c, panel_d,
    spacer(W_L, 75), spacer(W_R, 75),
    time_panel("E", W_L, LEFT_LETTER_X), time_panel("F", W_R, RIGHT_LETTER_X),
    spacer(W_L, 61), spacer(W_R, 61),
    time_panel("G", W_L, LEFT_LETTER_X), time_panel("H", W_R, RIGHT_LETTER_X),
    spacer(W_L, 61), spacer(W_R, 61),
    time_panel("I", W_L, LEFT_LETTER_X), time_panel("J", W_R, RIGHT_LETTER_X),
]

chart = alt.concat(*cells, columns=2, spacing={"row": 0, "column": COL_GAP}, bounds="flush").properties(
    padding={"top": PAD_TOP, "bottom": 0, "left": 0, "right": 0})
chart = chart.configure_view(stroke=None).configure_axis(
    labelFont=FONT, titleFont=FONT, titleFontWeight="normal", domainColor=INK, tickColor=INK,
    labelColor=INK, titleColor=INK, grid=False, domainWidth=1.5, tickWidth=1.3, tickSize=5, labelPadding=3
)
chart.save("out.html", embed_options={"renderer": "svg", "actions": False})
